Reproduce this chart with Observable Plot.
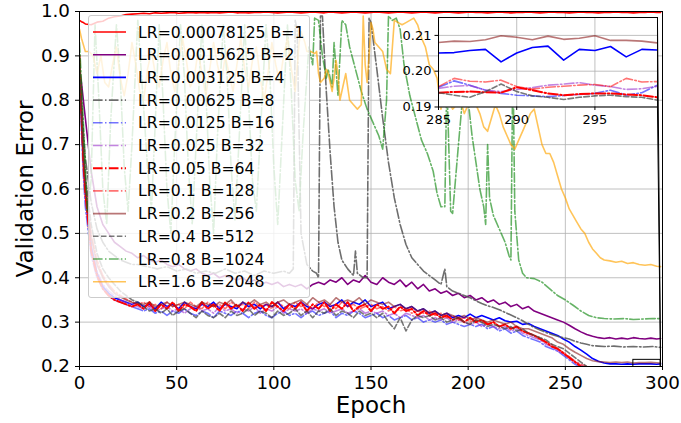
<!DOCTYPE html>
<html><head><meta charset="utf-8">
<script src="https://cdn.jsdelivr.net/npm/d3@7"></script>
<script src="https://cdn.jsdelivr.net/npm/@observablehq/plot@0.6"></script>
<style>
body{margin:0;background:#fff;}
#wrap{position:relative;width:681px;height:423px;overflow:hidden;font-family:"DejaVu Sans",sans-serif;background:#fff;}
#wrap svg{position:absolute;left:0;top:0;}
#legend{position:absolute;left:88px;top:15px;width:222px;height:283px;background:rgba(255,255,255,0.8);border:1px solid #cccccc;border-radius:3px;box-sizing:border-box;}
#legend svg{position:absolute;left:0;top:0;overflow:visible;}
</style></head>
<body><div id="wrap"></div>
<script>
// ---------- tick values & labels ----------
const xTicks = [0,50,100,150,200,250,300];
const yTicks = [0.2,0.3,0.4,0.5,0.6,0.7,0.8,0.9,1.0];
const insetXTicks = [285,290,295];
const insetYTicks = [0.19,0.20,0.21];
const labels = ["LR=0.00078125 B=1","LR=0.0015625 B=2","LR=0.003125 B=4","LR=0.00625 B=8","LR=0.0125 B=16","LR=0.025 B=32","LR=0.05 B=64","LR=0.1 B=128","LR=0.2 B=256","LR=0.4 B=512","LR=0.8 B=1024","LR=1.6 B=2048"];

// ---------- shared epoch grid for the regular series ----------
const epochs = [0,1,2,3,6,9,12,15,18,21,24,27,30,33,36,39,42,45,48,51,54,57,60,63,66,69,72,75,78,81,84,87,90,93,96,99,102,105,108,111,114,117,120,123,126,129,132,135,138,141,144,147,150,153,156,159,162,165,168,171,174,177,180,183,186,189,192,195,198,201,204,207,210,213,216,219,222,225,228,231,234,237,240,243,246,249,252,255,258,261,264,267,270,273,276,279,282,285,288,291,294,297,299];

const errB1 = [.98,.977,.975,.972,.97,.976,.978,.985,.988,.99,.993,.994,.995,
.996,.995,.997,.996,.997,.998,.996,.997,.998,.997,
.998,.997,.998,.997,.998,.999,.997,.998,.997,.998,
.998,.999,.998,.997,.998,.999,.998,.997,.998,.999,
.998,.997,.999,.998,.997,.998,.999,.998,.997,.998,
.999,.998,.997,.998,.999,.998,.997,.998,.999,.998,
.997,.998,.999,.998,.997,.998,.999,.998,.998,.997,
.998,.999,.998,.997,.998,.998,.999,.998,.997,.998,
.999,.998,.998,.997,.998,.999,.998,.998,.997,.998,
.998,.999,.998,.998,.997,.998,.998,.999,.998,.998];

const errB2 = [.87,.84,.80,.76,.64,.56,.52,.50,.48,.47,.46,.455,.445,
.45,.44,.435,.44,.43,.425,.43,.42,.415,.42,
.41,.405,.41,.40,.405,.40,.395,.40,.39,.395,
.385,.39,.385,.39,.38,.385,.38,.385,.375,.385,
.39,.385,.395,.39,.40,.385,.395,.39,.405,.39,
.385,.40,.39,.385,.395,.38,.39,.375,.385,.37,
.375,.365,.37,.36,.365,.355,.36,.35,.355,.345,
.35,.34,.345,.335,.34,.33,.335,.325,.32,.315,
.31,.305,.30,.293,.285,.278,.272,.268,.265,.263,
.265,.262,.264,.262,.265,.263,.262,.264,.262,.263];

const errB4 = [.89,.77,.67,.60,.47,.41,.38,.365,.355,.35,.345,.34,.345,
.335,.34,.33,.345,.335,.34,.33,.345,.335,.33,
.34,.335,.345,.33,.34,.335,.33,.345,.335,.34,
.33,.34,.335,.345,.33,.34,.335,.345,.335,.33,
.34,.345,.335,.34,.35,.335,.345,.34,.35,.335,
.34,.345,.33,.335,.34,.33,.335,.325,.33,.32,
.325,.315,.32,.31,.315,.31,.318,.31,.315,.31,
.305,.31,.303,.30,.302,.295,.297,.29,.285,.28,
.275,.27,.262,.255,.245,.237,.228,.218,.212,.208,
.206,.206,.205,.206,.205,.206,.206,.206,.205,.206];

const errB8 = [[0,.88],[1,.80],[2,.73],[3,.67],[6,.57],[9,.51],[12,.48],[15,.46],[18,.45],[21,.44],[24,.435],[27,.43],[30,.43],[35,.425],[40,.42],[45,.425],[50,.415],[55,.42],[60,.41],[65,.415],[70,.41],[75,.42],[80,.41],[85,.415],[90,.405],[95,.415],[100,.41],[105,.415],[108,.41],[110,.42],[111,.98],[112,.96],[114,.50],[117,.43],[120,.415],[122,.41],[123,.40],[124,.99],[125,.99],[127,.82],[129,.68],[131,.56],[133,.48],[135,.44],[138,.42],[140,.41],[141,.405],[142,.46],[143,.41],[146,.40],[148,.40],[149,.985],[150,.975],[153,.87],[156,.76],[159,.66],[162,.58],[165,.52],[168,.475],[171,.445],[174,.43],[177,.415],[180,.405],[183,.395],[186,.385],[188,.42],[189,.38],[192,.37],[195,.365],[198,.36],[201,.355],[204,.348],[207,.342],[210,.337],[213,.333],[216,.328],[219,.322],[222,.316],[225,.31],[228,.303],[231,.295],[234,.288],[237,.282],[240,.277],[243,.272],[246,.268],[249,.265],[252,.262],[255,.257],[258,.253],[261,.25],[264,.247],[267,.246],[270,.245],[275,.246],[280,.244],[285,.245],[290,.244],[295,.245],[299,.243]];

const errB16 = [.86,.73,.63,.56,.45,.40,.375,.36,.35,.345,.34,.335,.33,
.325,.33,.32,.325,.315,.325,.32,.33,.32,.315,
.325,.32,.31,.325,.32,.315,.325,.32,.31,.32,
.325,.315,.31,.32,.325,.315,.32,.31,.32,.325,
.315,.32,.325,.31,.32,.315,.325,.32,.31,.315,
.32,.31,.315,.305,.31,.315,.305,.31,.30,.305,
.30,.305,.295,.30,.295,.29,.295,.29,.295,.285,
.29,.28,.285,.275,.28,.27,.265,.26,.255,.245,
.24,.235,.225,.215,.205,.198,.195,.194,.194,.193,
.194,.194,.195,.194,.1955,.194,.193,.193,.194,.1965];

const errB32 = [.87,.75,.65,.58,.47,.415,.385,.37,.36,.35,.345,.34,.335,
.33,.335,.325,.33,.335,.325,.33,.32,.33,.335,
.325,.33,.32,.335,.325,.33,.32,.33,.325,.335,
.32,.33,.325,.335,.32,.33,.325,.33,.32,.33,
.325,.33,.32,.325,.33,.32,.325,.33,.32,.325,
.32,.325,.315,.32,.31,.32,.315,.31,.315,.305,
.31,.305,.31,.30,.305,.30,.295,.30,.29,.295,
.29,.285,.29,.28,.285,.275,.27,.265,.26,.25,
.245,.235,.228,.22,.21,.203,.198,.196,.195,.195,
.195,.196,.195,.195,.1952,.1947,.1954,.1964,.1949,.1958];

const errB64 = [.90,.77,.66,.59,.46,.405,.375,.36,.35,.345,.34,.335,.34,
.33,.345,.325,.34,.33,.345,.325,.34,.335,.325,
.345,.33,.34,.325,.345,.33,.34,.325,.345,.33,
.34,.325,.345,.335,.325,.34,.33,.345,.325,.34,
.33,.345,.325,.34,.33,.345,.325,.335,.34,.325,
.34,.33,.335,.32,.335,.325,.33,.315,.325,.315,
.32,.31,.315,.305,.31,.30,.31,.30,.305,.295,
.30,.29,.295,.285,.29,.28,.275,.27,.262,.255,
.245,.24,.23,.22,.21,.20,.196,.194,.194,.193,
.194,.193,.194,.193,.194,.194,.1947,.1936,.1935,.1927];

const errB128 = [.88,.78,.69,.62,.50,.44,.405,.385,.37,.36,.352,.345,.34,
.345,.335,.34,.33,.345,.335,.34,.33,.345,.335,
.33,.345,.335,.34,.33,.345,.335,.34,.33,.345,
.335,.34,.33,.345,.335,.33,.345,.335,.34,.33,
.345,.335,.34,.33,.345,.335,.34,.33,.335,.34,
.33,.335,.325,.335,.325,.33,.32,.325,.32,.325,
.315,.32,.31,.315,.305,.31,.30,.305,.30,.295,
.30,.29,.295,.285,.29,.28,.275,.27,.265,.255,
.25,.24,.232,.222,.212,.205,.20,.198,.197,.197,
.196,.197,.196,.197,.1957,.197,.195,.1961,.1963,.1971];

const errB256 = [.87,.76,.67,.60,.49,.43,.40,.38,.365,.357,.35,.345,.342,
.34,.345,.335,.34,.345,.335,.34,.345,.34,.335,
.345,.34,.335,.345,.34,.35,.335,.345,.34,.35,
.34,.345,.335,.345,.35,.34,.345,.35,.34,.355,
.345,.35,.34,.355,.345,.35,.345,.355,.34,.35,
.345,.34,.345,.335,.34,.33,.335,.325,.33,.32,
.325,.315,.32,.315,.31,.315,.305,.31,.305,.30,
.305,.30,.295,.30,.29,.285,.285,.28,.275,.27,
.265,.255,.25,.24,.232,.225,.218,.213,.211,.21,
.209,.21,.209,.21,.208,.2088,.2088,.2092,.2086,.2079];

const errB512 = [.90,.79,.70,.63,.52,.455,.42,.40,.385,.37,.36,.35,.345,
.335,.325,.33,.32,.33,.315,.325,.33,.32,.31,
.325,.315,.31,.32,.31,.325,.315,.32,.33,.315,
.325,.32,.31,.325,.315,.32,.33,.315,.325,.31,
.325,.32,.33,.315,.325,.32,.31,.325,.315,.32,
.31,.32,.30,.285,.31,.28,.305,.315,.31,.315,
.305,.31,.30,.305,.31,.30,.295,.305,.30,.29,
.295,.29,.285,.29,.28,.285,.275,.27,.265,.26,
.25,.245,.24,.23,.22,.21,.20,.197,.195,.194,
.194,.193,.194,.193,.194,.1927,.1931,.1927,.1929,.1919];

const errB1024 = [[0,.93],[2,.75],[4,.55],[6,.62],[8,.97],[10,.80],[12,.60],[14,.52],[16,.75],[19,.97],[21,.85],[23,.65],[25,.55],[27,.70],[30,.98],[32,.85],[35,.65],[37,.55],[39,.75],[41,.97],[43,.80],[45,.60],[47,.50],[49,.70],[52,.97],[54,.85],[56,.65],[58,.52],[60,.70],[63,.97],[65,.82],[67,.62],[69,.50],[71,.72],[74,.97],[76,.85],[78,.65],[80,.53],[82,.70],[85,.97],[87,.80],[89,.62],[91,.55],[93,.72],[96,.97],[98,.85],[100,.65],[102,.52],[104,.70],[107,.97],[109,.82],[111,.62],[113,.55],[115,.72],[118,.92],[120,.88],[121,.985],[123,.98],[125,.90],[127,.85],[128,.87],[130,.83],[131,.93],[133,.81],[135,.98],[137,.97],[139,.92],[142,.87],[145,.82],[148,.78],[151,.75],[154,.72],[156,.69],[158,.80],[159,.99],[161,.98],[163,.985],[165,.96],[167,.88],[170,.81],[173,.76],[176,.71],[179,.68],[182,.64],[184,.59],[186,.56],[188,.56],[189,.85],[190,.70],[191,.55],[192,.545],[195,.70],[198,.85],[200,.80],[202,.72],[204,.66],[206,.60],[208,.56],[209,.52],[210,.70],[211,.58],[213,.54],[215,.52],[217,.50],[219,.48],[221,.45],[222,.44],[223,.90],[224,.55],[226,.44],[228,.41],[230,.40],[234,.398],[238,.39],[242,.375],[246,.36],[250,.35],[254,.338],[258,.325],[262,.315],[266,.31],[270,.308],[275,.307],[280,.308],[285,.306],[290,.307],[295,.308],[299,.308]];

const errB2048 = [[0,.96],[1,.94],[3,.91],[5,.91],[7,.90],[9,.86],[11,.90],[13,.84],[15,.83],[17,.88],[19,.92],[21,.85],[23,.81],[25,.86],[27,.93],[29,.88],[31,.82],[33,.80],[35,.87],[37,.91],[39,.86],[41,.83],[43,.89],[45,.93],[47,.86],[49,.82],[51,.88],[53,.94],[55,.89],[57,.83],[59,.85],[61,.91],[63,.86],[65,.81],[67,.87],[69,.93],[71,.88],[73,.84],[75,.90],[77,.86],[79,.82],[81,.88],[83,.94],[85,.87],[87,.83],[89,.89],[91,.92],[93,.85],[95,.80],[97,.86],[99,.93],[101,.88],[103,.84],[105,.90],[107,.94],[109,.87],[111,.82],[113,.93],[114,.955],[116,.93],[117,.91],[119,.91],[121,.905],[122,.91],[123,.86],[124,.84],[126,.85],[127,.87],[128,.86],[130,.82],[131,.85],[132,.89],[133,.86],[134,.80],[136,.84],[137,.86],[138,.83],[139,.80],[141,.79],[143,.78],[145,.79],[146,.99],[147,.88],[148,.84],[149,.90],[150,.975],[151,.96],[152,.93],[154,.92],[156,.91],[158,.87],[160,.86],[161,.92],[162,.98],[164,.975],[166,.97],[168,.975],[170,.98],[172,.985],[174,.97],[176,.94],[178,.92],[180,.88],[182,.87],[184,.85],[186,.78],[188,.82],[190,.80],[192,.78],[194,.79],[196,.80],[198,.77],[200,.79],[202,.815],[204,.79],[206,.77],[208,.74],[210,.73],[212,.76],[214,.79],[216,.77],[218,.74],[220,.72],[222,.70],[224,.69],[226,.71],[228,.73],[230,.75],[232,.77],[234,.78],[236,.74],[238,.70],[240,.68],[242,.68],[244,.66],[246,.63],[248,.60],[250,.58],[252,.555],[254,.54],[256,.525],[258,.51],[260,.50],[262,.48],[264,.465],[266,.455],[268,.445],[270,.44],[273,.438],[276,.435],[279,.437],[282,.432],[285,.434],[288,.43],[291,.428],[294,.43],[297,.426],[299,.425]];

// ---------- inset (zoom on epochs 285-299) ----------
const insetEpochs = [285,286,287,288,289,290,291,292,293,294,295,296,297,298,299];
const insetB4   = [.2051,.2052,.2058,.2061,.2026,.2051,.2066,.2070,.2031,.2061,.2058,.2069,.2040,.2061,.2059];
const insetB16  = [.1955,.1973,.1961,.1947,.1938,.1933,.1931,.1929,.1932,.1935,.1938,.1947,.1933,.1940,.1961];
const insetB32  = [.1952,.1958,.1960,.1947,.1943,.1949,.1954,.1961,.1964,.1968,.1961,.1957,.1949,.1951,.1958];
const insetB64  = [.1940,.1942,.1943,.1941,.1940,.1955,.1947,.1938,.1933,.1936,.1938,.1938,.1935,.1933,.1927];
const insetB128 = [.1957,.1980,.1972,.1970,.1975,.1957,.1950,.1955,.1958,.1961,.1963,.1957,.1980,.1970,.1971];
const insetB256 = [.2080,.2084,.2083,.2088,.2099,.2095,.2088,.2098,.2089,.2092,.2099,.2086,.2086,.2084,.2079];
const insetB512 = [.1940,.1933,.1927,.1943,.1964,.1943,.1931,.1927,.1921,.1927,.1931,.1933,.1929,.1927,.1919];

// inset placement, in main-axes data units, and the zoomed box
const insetPlace = {x1: 184.7, x2: 297.4, y1: 0.7848, y2: 0.9865};
const zoomBox = {x1: 285, x2: 299, y1: 0.19, y2: 0.215};

// ---------- styles ----------
const DD = "9.6,2.4,1.5,2.4", DA = "5.55,2.4";
const styles = [
  {color:"#ff0000", opacity:1,    width:1.6, dash:null},
  {color:"#800080", opacity:1,    width:1.6, dash:null},
  {color:"#0000ff", opacity:1,    width:1.6, dash:null},
  {color:"#555555", opacity:0.85, width:1.6, dash:DD},
  {color:"#0000ff", opacity:0.55, width:1.6, dash:DD},
  {color:"#9932cc", opacity:0.6,  width:1.6, dash:DD},
  {color:"#ff0000", opacity:1,    width:2.0, dash:DD},
  {color:"#ff0000", opacity:0.55, width:1.6, dash:DD},
  {color:"#8b1a1a", opacity:0.6,  width:1.6, dash:null},
  {color:"#404040", opacity:0.7,  width:1.6, dash:DA},
  {color:"#008000", opacity:0.6,  width:1.6, dash:DD},
  {color:"#ffa500", opacity:0.65, width:1.6, dash:null}
];

const fromGrid = vals => epochs.map((e,i) => ({epoch:e, err:vals[i]}));
const fromPairs = pairs => pairs.map(([e,v]) => ({epoch:e, err:v}));
const fromInset = vals => insetEpochs.map((e,i) => ({epoch:e, err:vals[i]}));

const mainRows = [fromGrid(errB1), fromGrid(errB2), fromGrid(errB4), fromPairs(errB8), fromGrid(errB16), fromGrid(errB32), fromGrid(errB64), fromGrid(errB128), fromGrid(errB256), fromGrid(errB512), fromPairs(errB1024), fromPairs(errB2048)];
const insetRows = [null, null, fromInset(insetB4), null, fromInset(insetB16), fromInset(insetB32), fromInset(insetB64), fromInset(insetB128), fromInset(insetB256), fromInset(insetB512), null, null];

const lineMark = (rows, s) => Plot.line(rows, {x:"epoch", y:"err", stroke:s.color, strokeOpacity:s.opacity, strokeWidth:s.width, strokeDasharray:s.dash, clip:true});

const grid = {stroke:"#b0b0b0", strokeOpacity:1, strokeWidth:0.8};
const connectors = [
  {x1: insetPlace.x2, y1: insetPlace.y2, x2: zoomBox.x2, y2: zoomBox.y2},
  {x1: insetPlace.x2, y1: insetPlace.y1, x2: zoomBox.x2, y2: 0.2}
];

const mainChart = Plot.plot({
  width: 681, height: 423,
  marginLeft: 79, marginRight: 19, marginTop: 11, marginBottom: 57,
  x: {domain: [0, 300]},
  y: {domain: [0.2, 1.0]},
  style: {fontFamily: "DejaVu Sans", fontSize: "18px", color: "black", background: "white", overflow: "visible"},
  marks: [
    Plot.gridX(xTicks, grid),
    Plot.gridY(yTicks, grid),
    ...mainRows.map((rows, i) => lineMark(rows, styles[i])),
    Plot.rect([zoomBox], {x1:"x1", x2:"x2", y1:"y1", y2:"y2", stroke:"black", strokeWidth:1, fill:"none", clip:true}),
    Plot.link(connectors, {x1:"x1", y1:"y1", x2:"x2", y2:"y2", stroke:"black", strokeWidth:1}),
    Plot.frame({stroke:"black", strokeWidth:1}),
    Plot.axisX(xTicks, {tickSize:4, tickPadding:5, label:null, fontSize:18.3, tickFormat: d => String(d)}),
    Plot.axisY(yTicks, {tickSize:4, tickPadding:5.5, label:null, fontSize:18.3, tickFormat: d3.format(".1f")}),
    Plot.text(["Epoch"], {text: d => d, frameAnchor:"bottom", textAnchor:"middle", lineAnchor:"middle", dy:39, fontSize:23}),
    Plot.text(["Validation Error"], {text: d => d, frameAnchor:"left", textAnchor:"middle", lineAnchor:"middle", dx:-53.5, rotate:-90, fontSize:23})
  ]
});
const wrapEl = document.getElementById("wrap");
wrapEl.appendChild(mainChart);

// legend (matplotlib-style box with translucent white frame)
const leg = d3.select(wrapEl).append("div").attr("id", "legend");
const lsvg = leg.append("svg").attr("width", 220).attr("height", 281);
styles.forEach((s, i) => {
  const yy = 16 + i * 22.7;
  lsvg.append("line").attr("x1", 4).attr("x2", 37).attr("y1", yy).attr("y2", yy)
    .attr("stroke", s.color).attr("stroke-opacity", s.opacity).attr("stroke-width", s.width)
    .attr("stroke-dasharray", s.dash);
  lsvg.append("text").attr("x", 49).attr("y", yy).attr("dominant-baseline", "central")
    .attr("font-family", "DejaVu Sans").attr("font-size", 15.7).attr("fill", "black").text(labels[i]);
});

// inset axes, placed from the main scales
const sx = mainChart.scale("x"), sy = mainChart.scale("y");
const iLeft = sx.apply(insetPlace.x1), iRight = sx.apply(insetPlace.x2);
const iTop = sy.apply(insetPlace.y2), iBottom = sy.apply(insetPlace.y1);
const mL = 40, mR = 2, mT = 2, mB = 24.5;
const insetChart = Plot.plot({
  width: (iRight - iLeft) + mL + mR, height: (iBottom - iTop) + mT + mB,
  marginLeft: mL, marginRight: mR, marginTop: mT, marginBottom: mB,
  x: {domain: [zoomBox.x1, zoomBox.x2]},
  y: {domain: [zoomBox.y1, zoomBox.y2]},
  style: {fontFamily: "DejaVu Sans", fontSize: "13px", color: "black", background: "transparent", overflow: "visible"},
  marks: [
    Plot.frame({fill: "white"}),
    Plot.gridX(insetXTicks, grid),
    Plot.gridY(insetYTicks, grid),
    ...insetRows.map((rows, i) => rows ? lineMark(rows, styles[i]) : null).filter(Boolean),
    Plot.frame({stroke: "black", strokeWidth: 1}),
    Plot.axisX(insetXTicks, {tickSize:3.5, tickPadding:4.5, label:null, fontSize:13, tickFormat: d => String(d)}),
    Plot.axisY(insetYTicks, {tickSize:3.5, tickPadding:3.5, label:null, fontSize:13, tickFormat: d3.format(".2f")})
  ]
});
insetChart.style.left = (iLeft - mL) + "px";
insetChart.style.top = (iTop - mT) + "px";
wrapEl.appendChild(insetChart);
</script></body></html>
